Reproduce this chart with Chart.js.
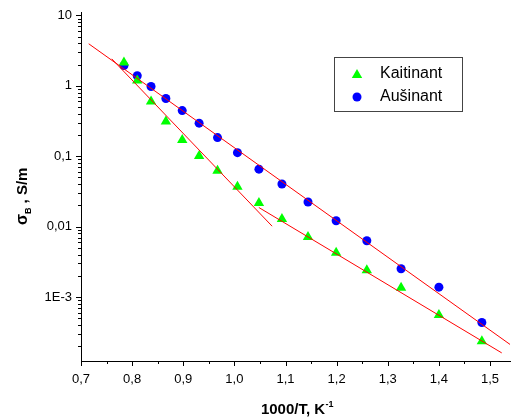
<!DOCTYPE html>
<html><head><meta charset="utf-8">
<script src="https://cdn.jsdelivr.net/npm/chart.js@4/dist/chart.umd.min.js"></script>
<style>html,body{margin:0;padding:0;background:#fff}#wrap{width:511px;height:419px}</style>
</head><body><div id="wrap"><canvas id="c" width="511" height="419"></canvas></div>
<script>
// ---- data ----
const seriesNames = ['Kaitinant', 'Aušinant'];
const heatingX = [0.784, 0.810, 0.837, 0.866, 0.898, 0.931, 0.967, 1.006, 1.048, 1.093, 1.144, 1.199, 1.259, 1.326, 1.400, 1.484];
const heatingY = [2.14, 1.19, 0.598, 0.311, 0.170, 0.101, 0.0624, 0.0370, 0.0217, 0.0128, 0.00711, 0.00425, 0.00241, 0.00135, 0.000553, 0.000236];
const coolingX = [0.784, 0.810, 0.837, 0.866, 0.898, 0.931, 0.967, 1.006, 1.048, 1.093, 1.144, 1.199, 1.259, 1.326, 1.400, 1.484];
const coolingY = [1.94, 1.39, 0.98, 0.66, 0.445, 0.295, 0.184, 0.1125, 0.0656, 0.0404, 0.0224, 0.0121, 0.0063, 0.00252, 0.00138, 0.000435];
const fitCoolX = [0.7151, 1.5391];
const fitCoolY = [3.96, 0.000212];
const fitHeatHighX = [0.7601, 1.0738];
const fitHeatHighY = [2.42, 0.01014];
const fitHeatLowX = [1.0478, 1.5229];
const fitHeatLowY = [0.0187, 0.0001607];
const xTicks = [0.7, 0.8, 0.9, 1.0, 1.1, 1.2, 1.3, 1.4, 1.5];
const xTickLabels = ['0,7', '0,8', '0,9', '1,0', '1,1', '1,2', '1,3', '1,4', '1,5'];
const yTicks = [10, 1, 0.1, 0.01, 0.001];
const yTickLabels = ['10', '1', '0,1', '0,01', '1E-3'];

const FONT = "'Liberation Sans', Arial, sans-serif";
const pts = (xs, ys) => xs.map((x, i) => ({x: x, y: ys[i]}));

const decorations = {
  id: 'decorations',
  afterDraw(chart) {
    const ctx = chart.ctx;
    const xs = chart.scales.x, ys = chart.scales.y;
    const area = chart.chartArea;
    ctx.save();
    ctx.strokeStyle = '#000';
    ctx.lineWidth = 1;
    ctx.beginPath();
    for (let i = 0; i < xTicks.length; i++) {
      const p = Math.round(xs.getPixelForValue(xTicks[i])) + 0.5;
      ctx.moveTo(p, area.bottom); ctx.lineTo(p, area.bottom + 5);
      if (i < xTicks.length - 1) {
        const m = Math.round(xs.getPixelForValue((xTicks[i] + xTicks[i + 1]) / 2)) + 0.5;
        ctx.moveTo(m, area.bottom); ctx.lineTo(m, area.bottom + 3);
      }
    }
    for (let e = -4; e <= 1; e++) {
      for (let k = 1; k <= 9; k++) {
        const v = k * Math.pow(10, e);
        if (v < ys.min || v > ys.max) continue;
        const p = Math.round(ys.getPixelForValue(v)) + 0.5;
        const len = k === 1 ? 5 : 3;
        ctx.moveTo(area.left, p); ctx.lineTo(area.left - len, p);
      }
    }
    ctx.stroke();

    // legend
    ctx.strokeStyle = '#444';
    ctx.strokeRect(334.5, 57.5, 128, 54);
    ctx.fillStyle = '#00ff00';
    ctx.beginPath();
    const tr = 6;
    ctx.moveTo(357, 75 - tr);
    ctx.lineTo(357 + Math.sin(2.0944) * tr, 75 - Math.cos(2.0944) * tr);
    ctx.lineTo(357 + Math.sin(4.1888) * tr, 75 - Math.cos(4.1888) * tr);
    ctx.closePath(); ctx.fill();
    ctx.fillStyle = '#0000ff';
    ctx.beginPath(); ctx.arc(357, 97, 4.5, 0, Math.PI * 2); ctx.fill();
    ctx.fillStyle = '#000';
    ctx.font = '16px ' + FONT;
    ctx.textBaseline = 'middle';
    ctx.textAlign = 'left';
    ctx.fillText(seriesNames[0], 380, 74);
    ctx.fillText(seriesNames[1], 380, 97);

    // x axis title with superscript
    ctx.textBaseline = 'alphabetic';
    const mainX = '1000/T, K', supX = '-1';
    ctx.font = 'bold 15px ' + FONT;
    const w1 = ctx.measureText(mainX).width;
    ctx.font = 'bold 9px ' + FONT;
    const w2 = ctx.measureText(supX).width;
    const sx = 297 - (w1 + w2) / 2;
    ctx.font = 'bold 15px ' + FONT;
    ctx.fillText(mainX, sx, 414);
    ctx.font = 'bold 9px ' + FONT;
    ctx.fillText(supX, sx + w1 + 0.5, 407);

    // y axis title with subscript (rotated)
    ctx.translate(27, 225);
    ctx.rotate(-Math.PI / 2);
    ctx.font = 'bold 16px ' + FONT;
    ctx.fillText('σ', 0, 0);
    let off = ctx.measureText('σ').width;
    ctx.font = 'bold 9px ' + FONT;
    ctx.fillText('B', off, 4);
    off += ctx.measureText('B').width;
    ctx.font = 'bold 15px ' + FONT;
    ctx.fillText(' , S/m', off, 0);
    ctx.restore();
  }
};

const lineDs = (xs, ys) => ({
  type: 'line', data: pts(xs, ys), borderColor: '#ff0000', borderWidth: 1,
  pointRadius: 0, fill: false, showLine: true, tension: 0
});

new Chart(document.getElementById('c'), {
  type: 'scatter',
  data: {
    datasets: [
      lineDs(fitCoolX, fitCoolY),
      lineDs(fitHeatHighX, fitHeatHighY),
      lineDs(fitHeatLowX, fitHeatLowY),
      { label: seriesNames[0], data: pts(heatingX, heatingY), pointStyle: 'triangle',
        pointRadius: 6, backgroundColor: '#00ff00', borderColor: '#00ff00', borderWidth: 0 },
      { label: seriesNames[1], data: pts(coolingX, coolingY), pointStyle: 'circle',
        pointRadius: 4.5, backgroundColor: '#0000ff', borderColor: '#0000ff', borderWidth: 0 }
    ]
  },
  options: {
    responsive: false, animation: false, devicePixelRatio: 1,
    layout: { autoPadding: false, padding: { top: 12, right: 0, left: 0, bottom: 0 } },
    plugins: { legend: { display: false }, tooltip: { enabled: false } },
    scales: {
      x: {
        type: 'linear', min: 0.7, max: 1.541,
        afterBuildTicks: s => { s.ticks = xTicks.map(v => ({ value: v })); },
        afterFit: s => { s.height = 58; s.paddingLeft = 0; s.paddingRight = 0; },
        ticks: { autoSkip: false, maxRotation: 0, padding: 11, color: '#000',
          font: { family: FONT, size: 13 },
          callback: (v, i) => xTickLabels[i] },
        grid: { display: false, drawTicks: false, tickLength: 0 },
        border: { display: true, color: '#000', width: 1 }
      },
      y: {
        type: 'logarithmic', min: 1.233e-4, max: 11.2,
        afterBuildTicks: s => { s.ticks = yTicks.map(v => ({ value: v })); },
        afterFit: s => { s.width = 81; s.paddingTop = 0; s.paddingBottom = 0; },
        ticks: { autoSkip: false, padding: 9, color: '#000',
          font: { family: FONT, size: 13 },
          callback: (v, i) => yTickLabels[i] },
        grid: { display: false, drawTicks: false, tickLength: 0 },
        border: { display: true, color: '#000', width: 1 }
      }
    }
  },
  plugins: [decorations]
});
</script>
</body></html>
